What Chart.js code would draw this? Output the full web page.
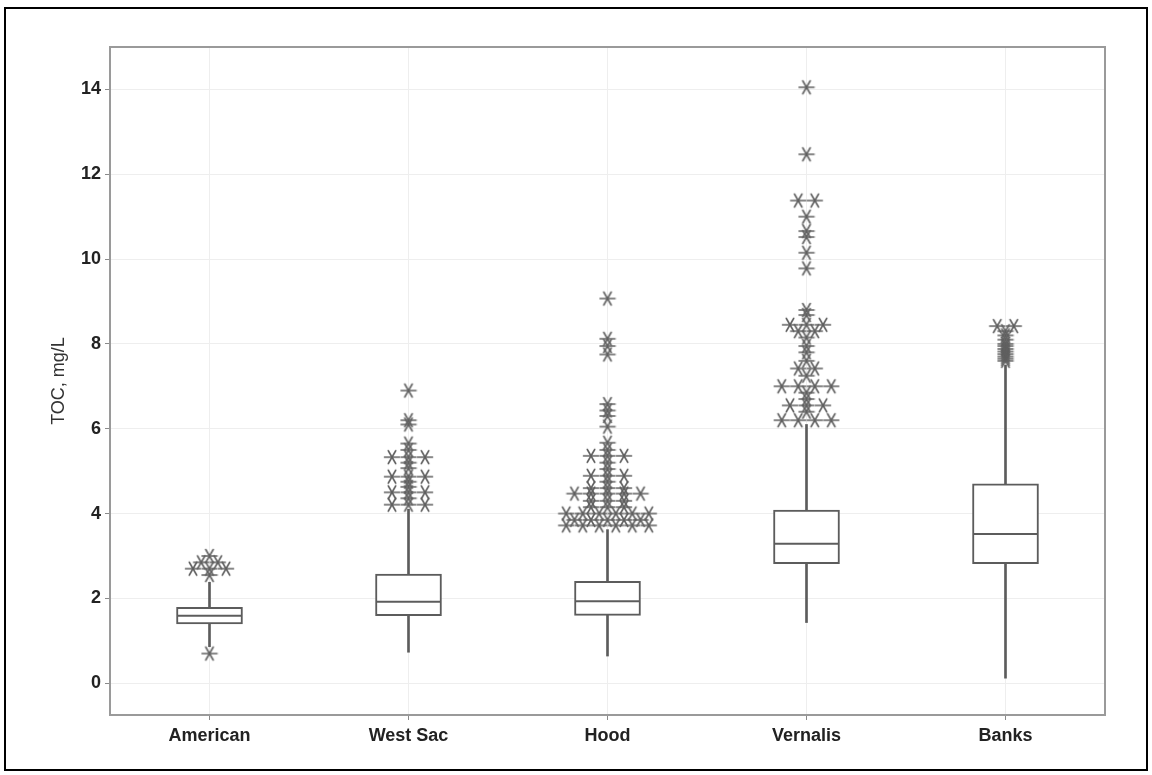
<!DOCTYPE html>
<html>
<head>
<meta charset="utf-8">
<script src="https://cdn.jsdelivr.net/npm/chart.js@4"></script>
<style>
  html, body { margin: 0; padding: 0; background: #fff; }
  #wrap { position: relative; width: 1152px; height: 775px; }
  #frame { position: absolute; left: 4px; top: 7px; width: 1140px; height: 760px; border: 2px solid #000; pointer-events: none; }
  canvas { position: absolute; left: 0; top: 0; }
</style>
</head>
<body>
<div id="wrap">
  <canvas id="chart" width="1152" height="775"></canvas>
  <div id="frame"></div>
</div>
<script>
const categories = ['American', 'West Sac', 'Hood', 'Vernalis', 'Banks'];
const yTicks = [0, 2, 4, 6, 8, 10, 12, 14];

// box statistics
const whiskerLow = [0.86, 0.73, 0.64, 1.43, 0.12];
const q1 = [1.40, 1.59, 1.60, 2.82, 2.82];
const median = [1.59, 1.92, 1.93, 3.29, 3.52];
const q3 = [1.79, 2.57, 2.40, 4.08, 4.70];
const whiskerHigh = [2.38, 4.10, 3.62, 6.10, 7.50];

// outliers, repeated values sit side by side
const outAmerican = [3.0, 2.85, 2.85, 2.7, 2.7, 2.7, 2.55, 0.7];
const outWestSac = [6.9, 6.2, 6.1, 5.65, 5.5, 5.33, 5.33, 5.33, 5.2, 5.07, 4.87, 4.87, 4.87,
  4.75, 4.63, 4.5, 4.5, 4.5, 4.36, 4.21, 4.21, 4.21];
const outHood = [9.07, 8.12, 7.95, 7.75, 6.58, 6.43, 6.3, 6.05, 5.67, 5.5, 5.36, 5.36, 5.36,
  5.2, 5.05, 4.89, 4.89, 4.89, 4.75, 4.6, 4.6, 4.6, 4.47, 4.47, 4.47, 4.47, 4.47,
  4.3, 4.3, 4.3, 4.15, 4.15, 4.15, 4.0, 4.0, 4.0, 4.0, 4.0, 4.0,
  3.85, 3.85, 3.85, 3.85, 3.85, 3.72, 3.72, 3.72, 3.72, 3.72, 3.72];
const outVernalis = [14.05, 12.47, 11.38, 11.38, 11.0, 10.66, 10.52, 10.15, 9.78, 8.8, 8.68,
  8.45, 8.45, 8.45, 8.3, 8.3, 8.15, 7.95, 7.8, 7.6, 7.42, 7.42, 7.25, 7.0, 7.0, 7.0, 7.0,
  6.85, 6.7, 6.55, 6.55, 6.55, 6.4, 6.2, 6.2, 6.2, 6.2];
const outBanks = [8.42, 8.42, 8.3, 8.2, 8.1, 8.0, 7.95, 7.88, 7.82, 7.76, 7.7, 7.65, 7.6];
const outliers = [outAmerican, outWestSac, outHood, outVernalis, outBanks];

const GREY = '#5c5c5c';
const SPREAD = 0.083;

// spread equal values sideways like a dot plot
function outlierPoints() {
  const pts = [];
  outliers.forEach((vals, i) => {
    const counts = {};
    vals.forEach((v) => { counts[v] = (counts[v] || 0) + 1; });
    Object.keys(counts).forEach((k) => {
      const n = counts[k];
      for (let j = 0; j < n; j++) {
        pts.push({ x: i + (j - (n - 1) / 2) * SPREAD, y: parseFloat(k) });
      }
    });
  });
  return pts;
}

// six-armed asterisk marker
function makeStar() {
  const c = document.createElement('canvas');
  c.width = 18; c.height = 18;
  const g = c.getContext('2d');
  g.strokeStyle = '#606060';
  g.lineWidth = 1.6;
  g.lineCap = 'round';
  const r = 7.5;
  [0, 60, 120].forEach((a) => {
    const t = a * Math.PI / 180;
    g.beginPath();
    g.moveTo(9 - r * Math.cos(t), 9 - r * Math.sin(t));
    g.lineTo(9 + r * Math.cos(t), 9 + r * Math.sin(t));
    g.stroke();
  });
  return c;
}

const frameBorder = {
  id: 'frameBorder',
  afterDraw(chart) {
    const { ctx, chartArea: a } = chart;
    ctx.save();
    ctx.strokeStyle = '#9a9a9a';
    ctx.lineWidth = 2;
    ctx.strokeRect(a.left, a.top, a.right - a.left, a.bottom - a.top);
    ctx.restore();
  }
};

const FONT = 'Arial, "Liberation Sans", sans-serif';

new Chart(document.getElementById('chart'), {
  type: 'bar',
  plugins: [frameBorder],
  data: {
    datasets: [
      {
        type: 'scatter',
        label: 'outliers',
        data: outlierPoints(),
        pointStyle: makeStar(),
        order: 0
      },
      {
        type: 'scatter',
        label: 'median',
        data: median.map((v, i) => ({ x: i, y: v })),
        pointStyle: 'line',
        pointRadius: 32,
        borderColor: GREY,
        borderWidth: 2,
        order: 1
      },
      {
        label: 'box',
        data: q1.map((v, i) => ({ x: i, y: [v, q3[i]] })),
        backgroundColor: '#ffffff',
        borderColor: GREY,
        borderWidth: 2,
        borderSkipped: false,
        barThickness: 66,
        grouped: false,
        order: 2
      },
      {
        label: 'whisker',
        data: whiskerLow.map((v, i) => ({ x: i, y: [v, whiskerHigh[i]] })),
        backgroundColor: GREY,
        borderWidth: 0,
        barThickness: 2,
        grouped: false,
        order: 3
      }
    ]
  },
  options: {
    responsive: false,
    animation: false,
    devicePixelRatio: 1,
    events: [],
    layout: { padding: { left: 48, right: 47, top: 47, bottom: 20 } },
    plugins: { legend: { display: false }, tooltip: { enabled: false } },
    scales: {
      x: {
        type: 'linear',
        min: -0.5,
        max: 4.5,
        offset: false,
        afterBuildTicks: (s) => { s.ticks = categories.map((c, i) => ({ value: i })); },
        afterFit: (s) => { s.height = 40; },
        grid: { offset: false, color: '#eeeeee', tickColor: '#8a8a8a', tickLength: 5, lineWidth: 1 },
        border: { display: false },
        ticks: {
          callback: (v) => categories[v],
          maxRotation: 0,
          autoSkip: false,
          padding: 5,
          color: '#222',
          font: { family: FONT, size: 18, weight: 'bold' }
        }
      },
      y: {
        min: -0.75,
        max: 15,
        afterBuildTicks: (s) => { s.ticks = yTicks.map((v) => ({ value: v })); },
        afterFit: (s) => { s.width = 62; },
        grid: { color: '#eeeeee', tickColor: '#8a8a8a', tickLength: 5, lineWidth: 1 },
        border: { display: false },
        ticks: {
          padding: 4,
          color: '#222',
          font: { family: FONT, size: 18, weight: 'bold' }
        },
        title: {
          display: true,
          text: 'TOC, mg/L',
          color: '#333',
          padding: { top: 0, bottom: 0 },
          font: { family: FONT, size: 18 }
        }
      }
    }
  }
});
</script>
</body>
</html>
